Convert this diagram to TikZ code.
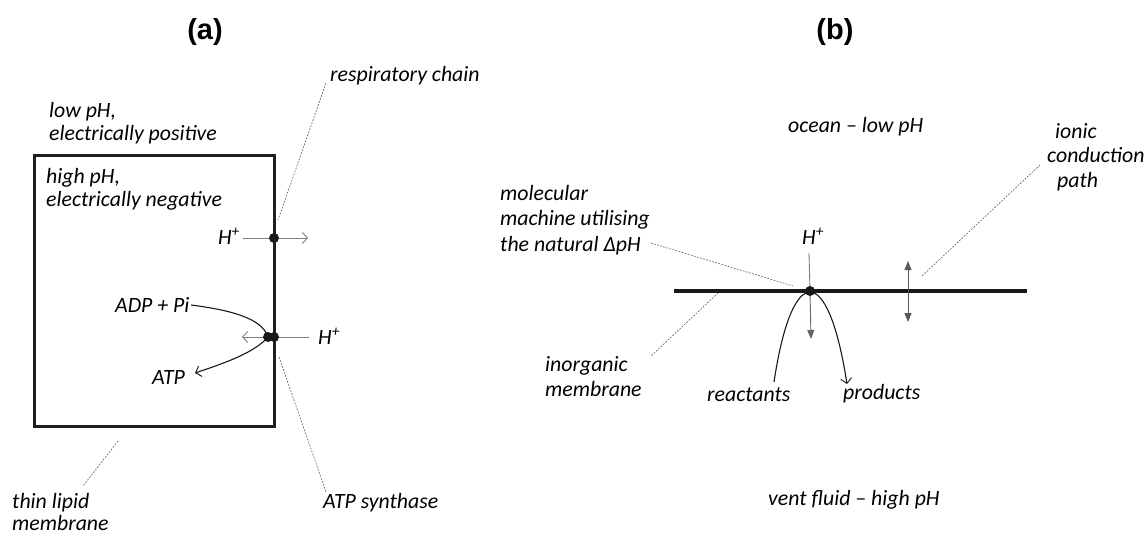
\documentclass[tikz,border=0pt]{standalone}
\usepackage{fontspec}
\setmainfont{Carlito}
\newfontfamily\titlefont{Liberation Sans}
\usetikzlibrary{arrows.meta}
\begin{document}
\begin{tikzpicture}[x=1pt,y=-1pt,
  lbl/.style={font=\fontsize{21.8}{25}\selectfont\itshape, inner sep=0pt, anchor=base west},
  ttl/.style={font=\titlefont\bfseries\fontsize{29}{32}\selectfont, inner sep=0pt},
  memb/.style={line width=3pt, draw=black!88},
  leader/.style={draw=black!65, line width=0.6pt, dash pattern=on 1.8pt off 1.4pt},
  hplus/.style={draw=black!50, line width=0.9pt},
  flow/.style={draw=black!90, line width=1.1pt},
  dotn/.style={circle, fill=black!90, inner sep=0pt, minimum size=10pt},
  openarr/.style={-{Straight Barb[length=5pt,width=11pt,line width=0.9pt]}},
  fillarr/.style={-{Triangle[length=9pt,width=7pt]}},
  bothfill/.style={{Triangle[length=9pt,width=7pt]}-{Triangle[length=9pt,width=7pt]}}
]
\useasboundingbox (0,0) rectangle (1148,538);

% ---------------- panel (a) ----------------
\node[ttl] (ta) at (205,32) {(a)};
\node[memb, draw, minimum width=240pt, minimum height=271pt, inner sep=0pt] (cell) at (154,290.5) {};

\node[lbl] (lowph) at (49,117) {low pH,};
\node[lbl] (elpos) at (49,140) {electrically positive};
\node[lbl] (highph) at (46,183) {high pH,};
\node[lbl] (elneg) at (46,206) {electrically negative};
\node[lbl] (resp) at (330,81) {respiratory chain};
\node[lbl, anchor=base east] (h1) at (240,244) {H\textsuperscript{+}};
\node[lbl] (h2) at (318,344) {H\textsuperscript{+}};
\node[lbl] (adp) at (115,312) {ADP + Pi};
\node[lbl] (atp) at (152,384) {ATP};
\node[lbl] (atps) at (323,508) {ATP synthase};
\node[lbl] (thin) at (12,508) {thin lipid};
\node[lbl] (thinm) at (12,530) {membrane};

\coordinate (rc) at (274,238);
\coordinate (as1) at (268,337);
\coordinate (as2) at (274,337);
\coordinate (h1s) at (243,238);
\coordinate (h1e) at (308,238);
\coordinate (h2s) at (309,337);
\coordinate (h2e) at (242,337);
\coordinate (adpe) at (191,305);
\coordinate (atpe) at (195,373);
\coordinate (lrc1) at (326,83);
\coordinate (lrc2) at (278,220);
\coordinate (las1) at (279,357);
\coordinate (las2) at (326,492);
\coordinate (lth1) at (118,441);
\coordinate (lth2) at (83,486);

\draw[hplus, openarr] (h1s) -- (h1e);
\draw[hplus, openarr] (h2s) -- (h2e);
\draw[flow] (adpe) .. controls (230,310) and (262,318) .. (as1);
\draw[flow, openarr] (as1) .. controls (255,352) and (228,362) .. (atpe);
\draw[leader] (lrc1) -- (lrc2);
\draw[leader] (las1) -- (las2);
\draw[leader] (lth1) -- (lth2);
\node[dotn] (d1) at (rc) {};
\node[dotn] (d2) at (as1) {};
\node[dotn] (d3) at (as2) {};

% ---------------- panel (b) ----------------
\node[ttl] (tb) at (835,32) {(b)};
\node[lbl] (ocean) at (788,132) {ocean -- low pH};
\node[lbl] (ionic) at (1055,138) {ionic};
\node[lbl] (cond) at (1047,162) {conduction};
\node[lbl] (path) at (1057,187) {path};
\node[lbl] (mol1) at (500,200) {molecular};
\node[lbl] (mol2) at (500,225) {machine utilising};
\node[lbl] (mol3) at (500,251) {the natural ΔpH};
\node[lbl] (inorg) at (545,371) {inorganic};
\node[lbl] (inorgm) at (545,396) {membrane};
\node[lbl] (hb) at (802,244) {H\textsuperscript{+}};
\node[lbl] (react) at (707,401) {reactants};
\node[lbl] (prod) at (843,399) {products};
\node[lbl] (vent) at (768,505) {vent fluid -- high pH};

\coordinate (ml) at (674,291);
\coordinate (mr) at (1027,291);
\coordinate (mach) at (810,291);
\coordinate (hbs) at (809,253);
\coordinate (hbe) at (811,339);
\coordinate (ic1) at (908,261);
\coordinate (ic2) at (908,322);
\coordinate (rs) at (774,382);
\coordinate (pe) at (847,384);
\coordinate (lm1) at (651,243);
\coordinate (lm2) at (793,286);
\coordinate (li1) at (718,293);
\coordinate (li2) at (651,356);
\coordinate (lc1) at (1040,165);
\coordinate (lc2) at (922,276);

\draw[line width=4pt, draw=black!90] (ml) -- (mr);
\draw[hplus] (hbs) -- (mach);
\draw[draw=black!60, line width=0.9pt, fillarr] (mach) -- (hbe);
\draw[draw=black!65, line width=0.9pt, bothfill] (ic1) -- (ic2);
\draw[flow, openarr] (rs) .. controls (792,262) and (828,262) .. (pe);
\draw[leader] (lm1) -- (lm2);
\draw[leader] (li1) -- (li2);
\draw[leader] (lc1) -- (lc2);
\node[dotn] (d4) at (mach) {};
\end{tikzpicture}
\end{document}
